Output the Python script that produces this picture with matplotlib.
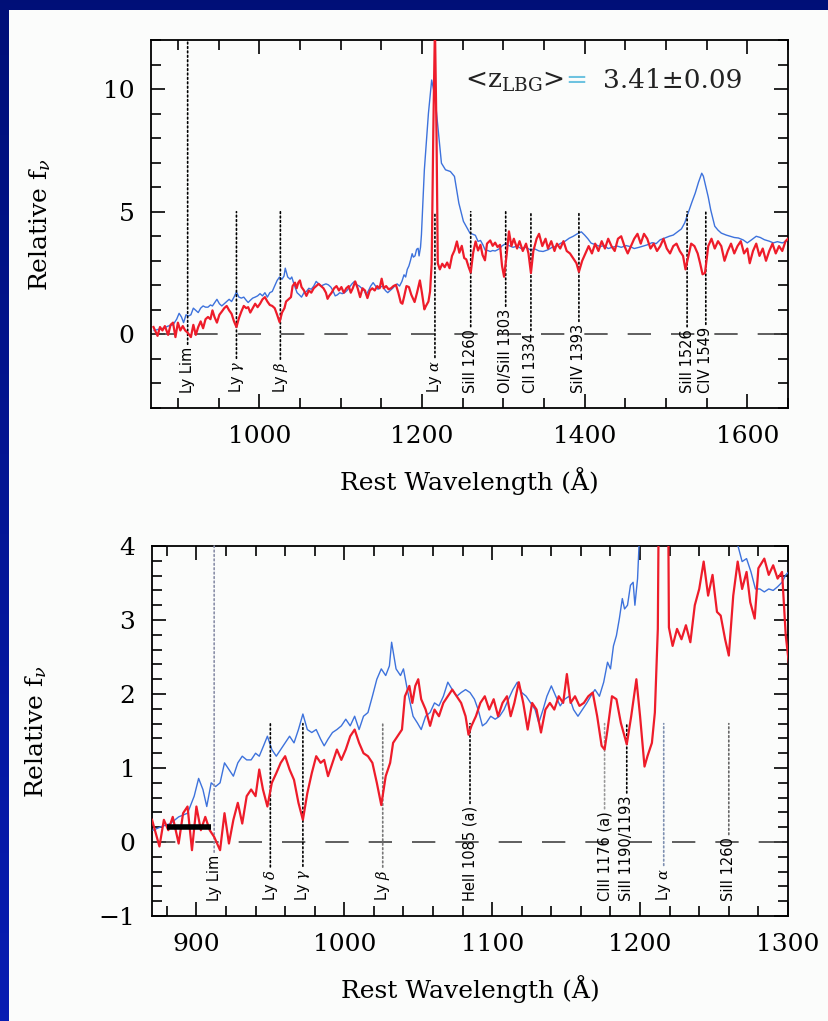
import numpy as np
import matplotlib
matplotlib.use("Agg")
import matplotlib.pyplot as plt
from matplotlib.patches import Rectangle
from matplotlib.ticker import MultipleLocator

plt.rcParams['font.family'] = 'DejaVu Serif'
plt.rcParams['mathtext.fontset'] = 'dejavuserif'

# LBG composite (blue) -- rest wavelength (A), relative f_nu
blue_wave = [870.7, 876.5, 882.4, 888, 894, 898.5, 901.5, 904.4, 907, 910, 913, 916, 919, 922, 925,
             928, 931, 934, 937, 940, 942.5, 945.4, 948, 951, 954, 957, 960, 963, 966, 969, 972, 975,
             978, 981, 984, 986.4, 989, 992, 995, 998, 1001, 1004, 1007, 1010, 1013, 1016, 1019, 1022,
             1025, 1028, 1030.5, 1032, 1035, 1038, 1040, 1043, 1046.5, 1049.4, 1052, 1055, 1058, 1061,
             1064, 1067, 1070, 1073, 1076, 1079, 1082, 1085, 1088, 1090.5, 1093.4, 1096, 1099, 1102,
             1105, 1108, 1111, 1114, 1117, 1120, 1123, 1126, 1129, 1131.5, 1134.4, 1137, 1140, 1143,
             1146, 1149, 1152, 1155, 1158, 1161, 1164, 1166.6, 1169.5, 1172.5, 1175.4, 1178, 1180,
             1182, 1184, 1186, 1188, 1189.5, 1191.5, 1193.5, 1195.3, 1196.5, 1198.3, 1199.4, 1203,
             1208, 1212, 1216, 1220, 1224, 1229, 1235, 1240, 1245.4, 1251, 1259, 1265.7, 1269, 1272,
             1275, 1278, 1281, 1284, 1287, 1290, 1293, 1296, 1298.5, 1303, 1307, 1312, 1317, 1322,
             1328, 1333, 1339, 1344, 1349, 1355, 1360, 1365, 1371, 1376, 1381, 1386, 1392, 1396, 1400,
             1404, 1408, 1414, 1419, 1424, 1429, 1435, 1440, 1445, 1451, 1456, 1461, 1467, 1472, 1477,
             1483, 1488, 1493, 1498, 1504, 1509, 1515, 1519, 1523, 1528, 1532, 1536, 1540, 1544, 1546,
             1549, 1552, 1555, 1560, 1564, 1568, 1574, 1579, 1584, 1589, 1595, 1600, 1605, 1611, 1616,
             1621, 1627, 1632, 1637, 1643, 1648]
blue_flux = [0.16, 0.21, 0.25, 0.34, 0.39, 0.62, 0.86, 0.71, 0.48, 0.80, 0.75, 0.80, 1.07, 0.98, 0.89,
             1.07, 1.16, 1.11, 1.11, 1.20, 1.16, 1.30, 1.43, 1.25, 1.16, 1.25, 1.34, 1.43, 1.34, 1.52,
             1.73, 1.52, 1.48, 1.52, 1.39, 1.30, 1.39, 1.48, 1.52, 1.57, 1.66, 1.57, 1.70, 1.52, 1.70,
             1.75, 1.97, 2.20, 2.34, 2.25, 2.38, 2.70, 2.34, 2.25, 2.34, 2.02, 1.70, 1.61, 1.52, 1.70,
             1.75, 1.88, 1.84, 1.97, 2.16, 2.06, 1.97, 2.02, 2.06, 2.02, 1.93, 1.79, 1.57, 1.61, 1.70,
             1.66, 1.70, 1.79, 1.93, 2.06, 2.16, 2.02, 1.97, 1.88, 1.79, 1.61, 1.79, 1.97, 2.11, 1.97,
             1.84, 1.93, 1.97, 1.79, 1.70, 1.79, 1.88, 1.97, 2.06, 1.97, 2.16, 2.43, 2.34, 2.65, 2.79,
             3.02, 3.29, 3.15, 3.20, 3.47, 3.51, 3.20, 3.56, 4.06, 6.71, 9.01, 10.37, 9.69, 8.33, 6.98,
             6.71, 6.64, 6.44, 5.35, 4.61, 4.13, 4.04, 3.79, 3.83, 3.65, 3.42, 3.42, 3.38, 3.42, 3.40,
             3.45, 3.51, 3.61, 3.70, 3.62, 3.55, 3.60, 3.50, 3.55, 3.45, 3.48, 3.40, 3.38, 3.45, 3.55,
             3.60, 3.72, 3.80, 3.92, 4.00, 4.12, 4.18, 4.05, 3.90, 3.72, 3.65, 3.58, 3.62, 3.50, 3.56,
             3.60, 3.55, 3.62, 3.58, 3.50, 3.55, 3.60, 3.65, 3.74, 3.70, 3.86, 3.92, 4.00, 4.05, 4.20,
             4.30, 4.54, 5.02, 5.40, 5.76, 6.20, 6.57, 6.45, 6.03, 5.60, 5.08, 4.41, 4.25, 4.13, 4.05,
             4.00, 3.95, 3.93, 3.85, 3.73, 3.85, 4.00, 3.95, 3.86, 3.80, 3.73, 3.78, 3.73, 3.80]

# observed spectrum (red)
red_wave = [870, 875, 878, 881, 884, 888, 891, 894, 897, 900, 903, 906, 909, 912, 916, 919, 922, 925,
            928, 931, 934, 937, 940, 942.5, 945, 948, 951, 954, 957, 960, 963, 966, 969, 972, 975, 978,
            981, 984, 986.4, 989, 992, 995, 998, 1001, 1004, 1007, 1010, 1013, 1016, 1019, 1022, 1025,
            1028, 1031, 1033, 1036, 1039, 1041, 1044, 1046, 1048, 1050, 1052, 1055, 1058, 1061, 1064,
            1067, 1070, 1073, 1076, 1079, 1082, 1084, 1086, 1089, 1092, 1095, 1098, 1101, 1104, 1107,
            1110, 1112.5, 1115, 1118, 1121, 1124, 1127, 1130, 1133, 1136, 1139, 1142, 1145, 1148,
            1150.5, 1153, 1156, 1159, 1162, 1165, 1168, 1171, 1174, 1176, 1178, 1181, 1184, 1187, 1191,
            1194, 1197.5, 1200, 1203, 1205, 1208, 1210, 1212, 1214, 1216, 1218, 1219.5, 1222, 1225,
            1228, 1231, 1234, 1237, 1240, 1243, 1246, 1249, 1252, 1254.5, 1257.5, 1260, 1263, 1266,
            1269, 1272, 1274.5, 1277.5, 1280, 1284, 1287, 1290, 1293, 1296, 1298.5, 1301, 1304, 1307,
            1310, 1313, 1317, 1320, 1324, 1328, 1331, 1334, 1337, 1341, 1344, 1348, 1352, 1355, 1359,
            1363, 1366, 1370, 1374, 1378, 1382, 1386, 1390, 1393, 1397, 1401, 1405, 1409, 1413, 1417,
            1421, 1425, 1429, 1433, 1437, 1441, 1445, 1449, 1453, 1457, 1461, 1465, 1469, 1473, 1477,
            1481, 1485, 1489, 1493, 1497, 1501, 1505, 1509, 1513, 1517, 1521, 1524, 1527, 1531, 1535,
            1539, 1542, 1545, 1548, 1552, 1556, 1560, 1564, 1568, 1572, 1576, 1580, 1584, 1588, 1592,
            1596, 1600, 1603, 1607, 1611, 1615, 1619, 1623, 1627, 1631, 1635, 1639, 1643, 1647, 1650]
red_flux = [0.30, -0.06, 0.30, 0.16, 0.34, -0.02, 0.39, 0.48, -0.11, 0.48, 0.16, 0.34, 0.16, 0.07,
            -0.11, 0.39, -0.02, 0.30, 0.53, 0.25, 0.62, 0.71, 0.62, 0.98, 0.71, 0.48, 0.80, 0.93, 1.07,
            1.16, 0.98, 0.84, 0.53, 0.30, 0.66, 0.93, 1.16, 1.07, 1.11, 0.89, 1.07, 1.25, 1.11, 1.25,
            1.43, 1.52, 1.34, 1.20, 1.16, 1.07, 0.80, 0.50, 0.89, 1.07, 1.34, 1.43, 1.52, 1.97, 2.11,
            1.88, 2.11, 2.20, 1.93, 1.79, 1.57, 1.79, 1.70, 1.88, 1.97, 2.06, 1.97, 1.88, 1.70, 1.45,
            1.57, 1.70, 1.88, 1.97, 1.79, 1.93, 1.70, 1.88, 1.97, 1.70, 1.88, 2.16, 1.88, 1.52, 1.88,
            1.79, 1.48, 1.79, 1.88, 1.79, 1.97, 1.88, 2.27, 1.88, 1.97, 1.84, 1.88, 1.97, 2.02, 1.70,
            1.30, 1.25, 1.52, 1.97, 1.93, 1.61, 1.32, 1.70, 2.20, 1.70, 1.02, 1.16, 1.34, 1.75, 2.88,
            8.3, 12.6, 8.0, 2.90, 2.65, 2.88, 2.74, 2.93, 2.70, 3.20, 3.42, 3.79, 3.33, 3.61, 3.11,
            3.06, 2.74, 2.52, 3.33, 3.79, 3.42, 3.65, 3.24, 3.02, 3.70, 3.83, 3.61, 3.74, 3.56, 3.65,
            2.79, 2.35, 3.2, 4.2, 3.6, 3.9, 3.5, 3.8, 3.4, 3.7, 3.3, 2.5, 3.4, 3.9, 4.1, 3.6, 3.9, 3.5,
            3.8, 3.4, 3.7, 3.5, 3.8, 3.4, 3.3, 3.1, 2.9, 2.55, 3.0, 3.3, 3.6, 3.3, 3.7, 3.4, 3.8, 3.5,
            3.9, 3.6, 3.4, 3.9, 4.0, 3.6, 3.3, 3.6, 3.9, 4.1, 3.7, 4.1, 3.9, 3.5, 3.7, 3.4, 3.6, 3.9,
            3.5, 3.3, 3.6, 3.7, 3.4, 3.2, 2.65, 3.1, 3.7, 3.6, 3.3, 2.9, 2.45, 2.5, 3.6, 3.9, 3.5, 3.8,
            3.6, 3.0, 3.4, 3.7, 3.3, 3.6, 3.8, 3.3, 3.5, 2.9, 3.4, 3.7, 3.2, 3.5, 3.0, 3.4, 3.7, 3.3,
            3.6, 3.4, 3.8, 3.9]

# line identifications
top_line_wave = [912, 972, 1026, 1216, 1260, 1303, 1334, 1393, 1526, 1549]
top_line_name = ["Ly Lim", "Ly $\\gamma$", "Ly $\\beta$", "Ly $\\alpha$", "SiII 1260", "OI/SiII 1303",
                 "CII 1334", "SiIV 1393", "SiII 1526", "CIV 1549"]
top_line_top = [12, 5, 5, 5, 5, 5, 5, 5, 5, 5]

bot_line_wave = [912, 950, 972, 1026, 1085, 1176, 1191, 1216, 1260]
bot_line_name = ["Ly Lim", "Ly $\\delta$", "Ly $\\gamma$", "Ly $\\beta$", "HeII 1085 (a)",
                 "CIII 1176 (a)", "SiII 1190/1193", "Ly $\\alpha$", "SiII 1260"]
bot_line_top = [4, 1.6, 1.6, 1.6, 1.6, 1.6, 1.6, 1.6, 1.6]
bot_line_color = ['#8a8fa8', 'k', 'k', '#777777', 'k', '#999999', 'k', '#7d8fb0', '#666666']

# black bar in lower panel
bar_wave = [880, 910]
bar_flux = [0.2, 0.2]

RED = '#ee1c2a'
BLUE = '#3d72dc'

fig = plt.figure(figsize=(8.29, 10.21), dpi=100)

# navy frame + white page
bg = fig.add_axes([0, 0, 1, 1], zorder=-10)
grad = np.linspace(0, 1, 256)[:, None, None]
top_c = np.array([0.0, 0.06, 0.47])
bot_c = np.array([0.03, 0.11, 0.70])
bg.imshow(top_c * (1 - grad) + bot_c * grad, aspect='auto', extent=[0, 1, 0, 1])
bg.add_patch(Rectangle((9 / 829, 0), 1, 1 - 10 / 1021, transform=bg.transAxes,
                       facecolor='#fbfcfb', edgecolor='none'))
bg.set_xlim(0, 1)
bg.set_ylim(0, 1)
bg.axis('off')

ax1 = fig.add_axes([0.1822, 0.6004, 0.7683, 0.3604])
ax2 = fig.add_axes([0.1834, 0.1028, 0.7671, 0.3624])


def mark_lines(ax, waves, names, tops, y_text, colors):
    for w, name, top, c in zip(waves, names, tops, colors):
        ax.annotate(name, xy=(w, top), xytext=(w, y_text), rotation=90,
                    ha='center', va='bottom', fontsize=10.5, family='DejaVu Sans',
                    arrowprops=dict(arrowstyle='-', linestyle=':', color=c, lw=1.2,
                                    shrinkA=0, shrinkB=0))


def style(ax):
    ax.set_facecolor('none')
    ax.tick_params(which='both', direction='in', top=True, right=True,
                   labelsize=18, pad=12, width=1.2)
    ax.tick_params(which='major', length=10)
    ax.tick_params(which='minor', length=7)
    for s in ax.spines.values():
        s.set_linewidth(1.3)
    ax.set_xlabel("Rest Wavelength (Å)", fontsize=18, labelpad=14)
    ax.set_ylabel("Relative f$_\\nu$", fontsize=18, labelpad=36)


# upper panel
ax1.plot(blue_wave, blue_flux, color=BLUE, lw=1.0, zorder=3)
ax1.plot(red_wave, red_flux, color=RED, lw=1.6, zorder=4)
ax1.axhline(0, color='#444444', lw=1.2, dashes=(14, 12), zorder=2)
mark_lines(ax1, top_line_wave, top_line_name, top_line_top, -2.4, ['k'] * len(top_line_wave))
ax1.set_xlim(867, 1650)
ax1.set_ylim(-3, 12)
ax1.xaxis.set_major_locator(MultipleLocator(200))
ax1.xaxis.set_minor_locator(MultipleLocator(50))
ax1.yaxis.set_major_locator(MultipleLocator(5))
ax1.yaxis.set_minor_locator(MultipleLocator(1))
style(ax1)
ax1.text(0.493, 0.870, "<z$_{\\mathrm{LBG}}$>", transform=ax1.transAxes, fontsize=19,
         va='baseline', ha='left', color='#222222')
ax1.text(0.668, 0.870, "=", transform=ax1.transAxes, fontsize=19,
         va='baseline', ha='center', color='#6ec3e0')
ax1.text(0.710, 0.870, "3.41±0.09", transform=ax1.transAxes, fontsize=19,
         va='baseline', ha='left', color='#222222')

# lower panel
ax2.plot(blue_wave, blue_flux, color=BLUE, lw=1.0, zorder=3)
ax2.plot(red_wave, red_flux, color=RED, lw=1.6, zorder=4)
ax2.axhline(0, color='#444444', lw=1.2, dashes=(14, 12), zorder=2)
ax2.plot(bar_wave, bar_flux, color='k', lw=4, solid_capstyle='butt', zorder=5)
mark_lines(ax2, bot_line_wave, bot_line_name, bot_line_top, -0.8, bot_line_color)
ax2.set_xlim(870, 1300)
ax2.set_ylim(-1, 4)
ax2.xaxis.set_major_locator(MultipleLocator(100))
ax2.xaxis.set_minor_locator(MultipleLocator(20))
ax2.yaxis.set_major_locator(MultipleLocator(1))
ax2.yaxis.set_minor_locator(MultipleLocator(0.2))
style(ax2)
ax2.set_yticks([-1, 0, 1, 2, 3, 4])
ax2.set_yticklabels(["−1", "0", "1", "2", "3", "4"])

fig.savefig("out.png", dpi=100)
